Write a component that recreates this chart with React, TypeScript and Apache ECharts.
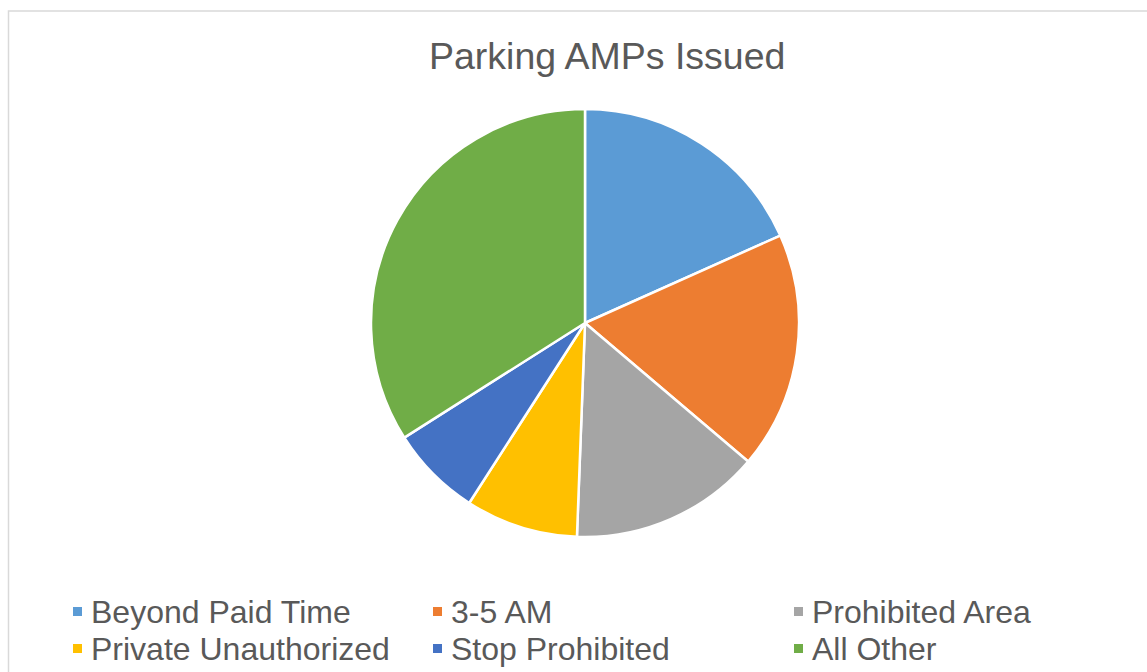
import React, { useEffect, useRef } from "react";
import * as echarts from "echarts";

const categories = [
  "Beyond Paid Time",
  "3-5 AM",
  "Prohibited Area",
  "Private Unauthorized",
  "Stop Prohibited",
  "All Other",
];
const values = [18.3, 17.9, 14.4, 8.5, 6.9, 34.0];
const colors = ["#5B9BD5", "#ED7D31", "#A5A5A5", "#FFC000", "#4472C4", "#70AD47"];
const titleText = "Parking AMPs Issued";

const FONT = "'Liberation Sans', Arial, sans-serif";

export default function App() {
  const ref = useRef<HTMLDivElement>(null);
  useEffect(() => {
    if (!ref.current) return;
    const chart = echarts.init(ref.current, null, { renderer: "svg" });
    const legendCol = (names: string[], left: number) => ({
      orient: "vertical",
      left,
      top: 593,
      height: 78,
      padding: 0,
      data: names,
      icon: "rect",
      itemWidth: 11,
      itemHeight: 11,
      itemGap: 0,
      selectedMode: false,
      textStyle: {
        color: "#595959",
        fontSize: 32,
        fontFamily: FONT,
        lineHeight: 37,
        padding: [0, 0, 0, 3],
      },
    });
    chart.setOption({
      animation: false,
      backgroundColor: "#ffffff",
      color: colors,
      title: {
        text: titleText,
        left: 429,
        top: 37,
        padding: 0,
        textStyle: {
          color: "#595959",
          fontSize: 37.5,
          fontWeight: "normal",
          fontFamily: FONT,
        },
      },
      graphic: [
        {
          type: "rect",
          shape: { x: 8.5, y: 11, width: 1300, height: 800 },
          style: { fill: "none", stroke: "#d9d9d9", lineWidth: 1.5 },
          silent: true,
        },
      ],
      legend: [
        legendCol([categories[0], categories[3]], 71),
        legendCol([categories[1], categories[4]], 431),
        legendCol([categories[2], categories[5]], 792),
      ],
      series: [
        {
          type: "pie",
          center: [585, 323],
          radius: 214,
          startAngle: 90,
          clockwise: true,
          label: { show: false },
          labelLine: { show: false },
          emphasis: { disabled: true },
          itemStyle: { borderColor: "#ffffff", borderWidth: 2.5 },
          data: categories.map((name, i) => ({ name, value: values[i] })),
        },
      ],
    });
    return () => chart.dispose();
  }, []);
  return (
    <div
      ref={ref}
      style={{ position: "fixed", left: 0, top: 0, width: 1147, height: 672 }}
    />
  );
}
